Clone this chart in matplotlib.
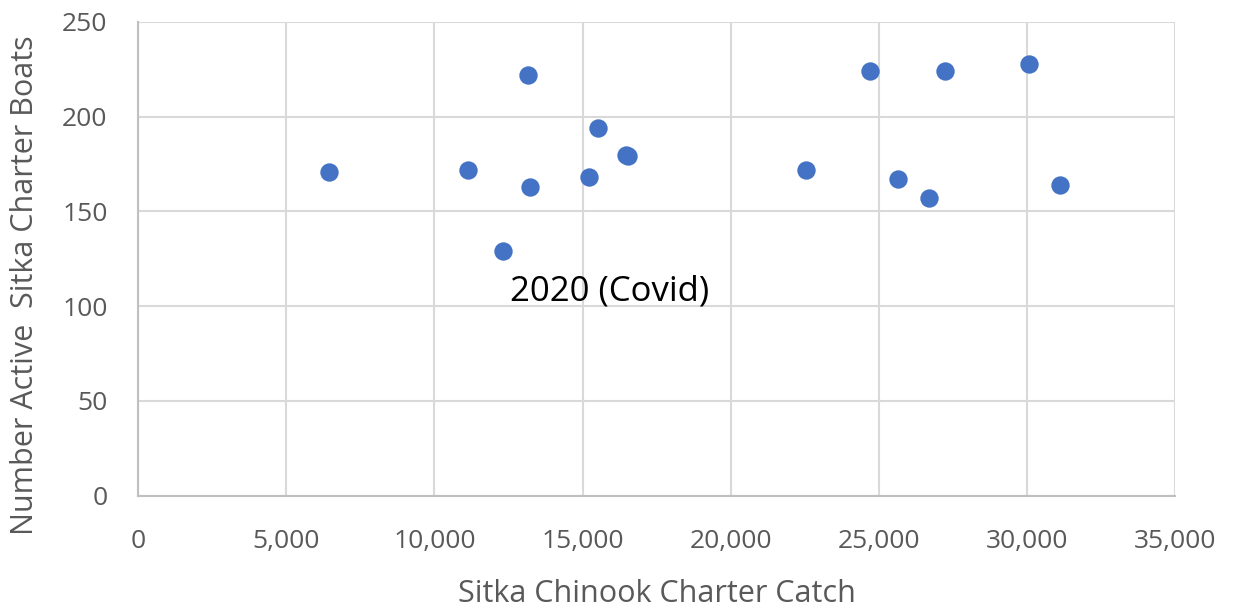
import matplotlib.pyplot as plt
from matplotlib.ticker import FuncFormatter

# Sitka charter catch vs. active charter boats, one point per season
catch = [6450, 11140, 13160, 13230, 12320, 15520, 15220, 16460, 16530,
         22550, 24700, 25650, 26700, 27230, 30070, 31120]
boats = [171, 172, 222, 163, 129, 194, 168, 180, 179,
         172, 224, 167, 157, 224, 228, 164]

covid_catch = 12320
covid_boats = 129

plt.rcParams['font.family'] = ['Open Sans', 'DejaVu Sans']

fig = plt.figure(figsize=(12.33, 6.09), dpi=100)
ax = fig.add_axes([0.112, 0.186, 0.841, 0.778])

ax.scatter(catch, boats, s=175, color='#4472c4', zorder=3, linewidths=0)

ax.set_xlim(0, 35000)
ax.set_ylim(0, 250)
ax.set_xticks(range(0, 35001, 5000))
ax.set_yticks(range(0, 251, 50))
ax.xaxis.set_major_formatter(FuncFormatter(lambda v, p: f'{int(v):,}'))

ax.grid(True, color='#d9d9d9', linewidth=1.5)
ax.set_axisbelow(True)
for side in ['top', 'right']:
    ax.spines[side].set_visible(False)
for side in ['left', 'bottom']:
    ax.spines[side].set_color('#bfbfbf')
    ax.spines[side].set_linewidth(1.5)

ax.tick_params(length=0, labelsize=19, colors='#595959')
ax.tick_params(axis='x', pad=24)
ax.tick_params(axis='y', pad=22)
ax.set_xlabel('Sitka Chinook Charter Catch', fontsize=22, color='#595959', labelpad=18)
ax.set_ylabel('Number Active  Sitka Charter Boats', fontsize=22, color='#595959', labelpad=0)
ax.yaxis.set_label_coords(-0.095, 0.445)

ax.annotate('2020 (Covid)', xy=(covid_catch, covid_boats), xytext=(12550, 108),
            fontsize=25, color='black', va='center', ha='left')

fig.savefig('out.png', dpi=100)
